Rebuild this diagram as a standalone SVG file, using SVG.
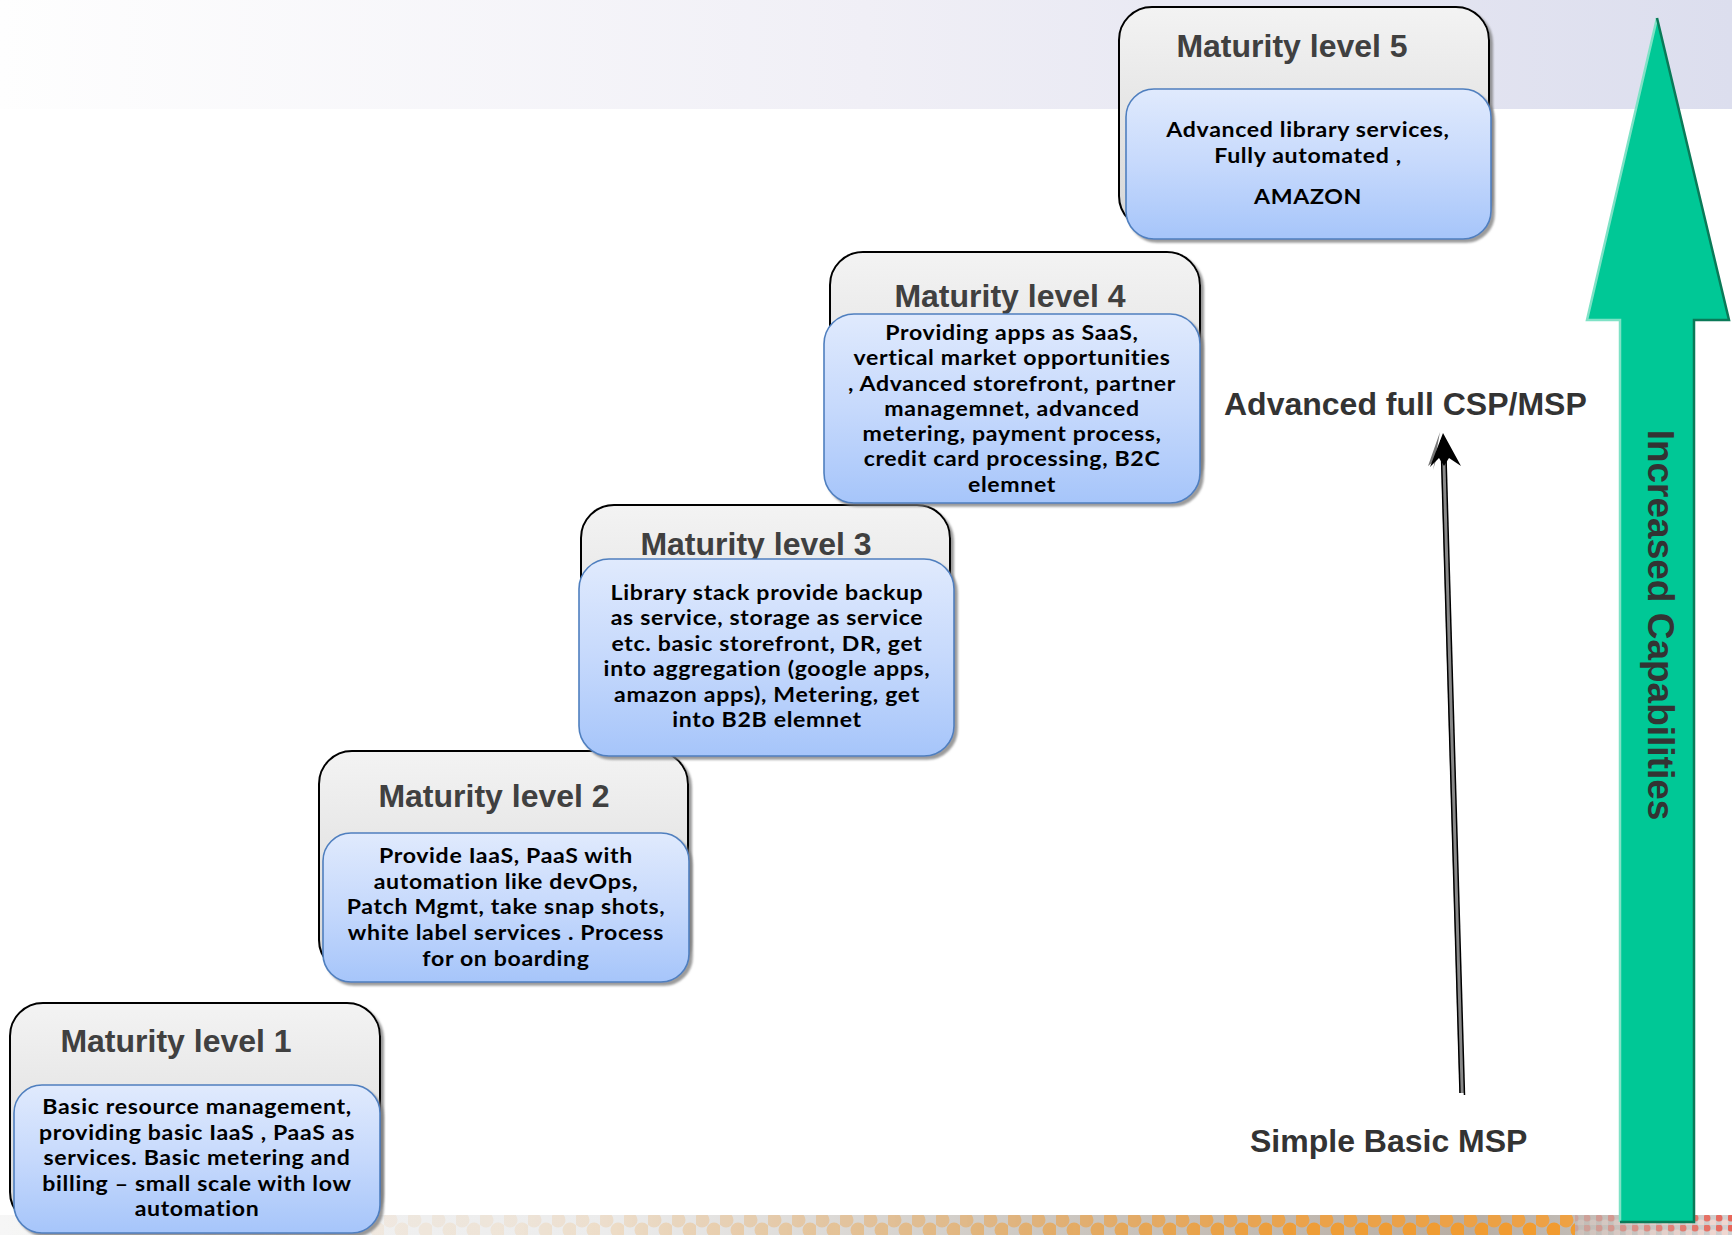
<svg xmlns="http://www.w3.org/2000/svg" width="1732" height="1235" viewBox="0 0 1732 1235">
<defs>
<linearGradient id="topband" x1="0" y1="0" x2="1" y2="0">
<stop offset="0" stop-color="#fefefe"/>
<stop offset="0.5" stop-color="#f0eff6"/>
<stop offset="1" stop-color="#dcdeee"/>
</linearGradient>
<linearGradient id="botband" x1="0" y1="0" x2="1" y2="0">
<stop offset="0" stop-color="#f6f6f6"/>
<stop offset="0.35" stop-color="#ececec"/>
<stop offset="0.6" stop-color="#cdc8c2"/>
<stop offset="0.85" stop-color="#b8aea4"/>
<stop offset="1" stop-color="#d0d0d0"/>
</linearGradient>
<linearGradient id="dotfade" x1="0" y1="0" x2="1" y2="0">
<stop offset="0" stop-color="#fff" stop-opacity="0"/>
<stop offset="0.3" stop-color="#fff" stop-opacity="0.12"/>
<stop offset="0.55" stop-color="#fff" stop-opacity="0.45"/>
<stop offset="0.75" stop-color="#fff" stop-opacity="0.9"/>
<stop offset="1" stop-color="#fff" stop-opacity="1"/>
</linearGradient>
<pattern id="dots" x="0" y="1215" width="24" height="20" patternUnits="userSpaceOnUse">
<circle cx="6" cy="5" r="7.5" fill="#efa040"/>
<circle cx="18" cy="15" r="7.5" fill="#f39a2a"/>
</pattern>
<pattern id="dots2" x="0" y="1215" width="12" height="10" patternUnits="userSpaceOnUse">
<circle cx="3" cy="3" r="3.5" fill="#ef4a3a"/>
<circle cx="9" cy="8" r="3.5" fill="#f9d8d0"/>
</pattern>
<linearGradient id="redfade" x1="0" y1="0" x2="1" y2="0">
<stop offset="0" stop-color="#fff" stop-opacity="0.2"/>
<stop offset="1" stop-color="#fff" stop-opacity="0.8"/>
</linearGradient>
<mask id="dotmask"><rect x="0" y="1215" width="1732" height="20" fill="url(#dotfade)"/></mask>
<mask id="redmask"><rect x="1575" y="1215" width="157" height="20" fill="url(#redfade)"/></mask>
<linearGradient id="grayfill" x1="0" y1="0" x2="0" y2="1">
<stop offset="0" stop-color="#f3f3f3"/>
<stop offset="1" stop-color="#d6d6d6"/>
</linearGradient>
<linearGradient id="bluefill" x1="0" y1="0" x2="0" y2="1">
<stop offset="0" stop-color="#e0eafd"/>
<stop offset="0.5" stop-color="#c6d9fc"/>
<stop offset="1" stop-color="#a6c5fa"/>
</linearGradient>
<filter id="shadow" x="-5%" y="-5%" width="115%" height="115%">
<feDropShadow dx="3" dy="3" stdDeviation="1.2" flood-color="#7a7a7a" flood-opacity="0.75"/>
</filter>
<style>
.outer{fill:url(#grayfill);stroke:#000;stroke-width:2;filter:url(#shadow)}
.inner{fill:url(#bluefill);stroke:#4f7fbf;stroke-width:1.6;filter:url(#shadow)}
.title{font-family:"Liberation Sans",Arial,sans-serif;font-weight:bold;font-size:32px;fill:#404040;text-anchor:middle}
.body{font-family:Lato,"Open Sans",sans-serif;font-weight:bold;font-size:21px;letter-spacing:0.6px;fill:#000;text-anchor:middle}
.label{font-family:"Liberation Sans",Arial,sans-serif;font-weight:bold;font-size:32px;fill:#333}
</style>
</defs>

<g id="background">
<rect x="0" y="0" width="1732" height="1235" fill="#fff"/>
<rect x="0" y="0" width="1732" height="109" fill="url(#topband)"/>
<rect x="0" y="1215" width="1732" height="20" fill="url(#botband)"/>
<rect x="0" y="1215" width="1575" height="20" fill="url(#dots)" mask="url(#dotmask)"/>
<rect x="1575" y="1215" width="157" height="20" fill="url(#dots2)" mask="url(#redmask)"/>
</g>

<g id="capability-arrow">
<path d="M1657 18 L1729 320 L1694 320 L1694 1222 L1620 1222 L1620 320 L1587 320 Z" fill="#00c896"/>
<path d="M1657 18 L1587 320 L1620 320 L1620 1222" fill="none" stroke="#7fe2c6" stroke-width="2.5"/>
<path d="M1657 18 L1729 320 L1694 320 L1694 1222 L1620 1222" fill="none" stroke="#0a7a58" stroke-width="2.5"/>
<text x="1648" y="625" transform="rotate(90 1648 625)" text-anchor="middle" font-family="Liberation Sans, Arial, sans-serif" font-weight="bold" font-size="37" fill="#333">Increased Capabilities</text>
</g>

<g id="level1">
<rect class="outer" x="10" y="1003" width="370" height="222" rx="33"/>
<text class="title" x="176" y="1052">Maturity level 1</text>
<rect class="inner" x="14" y="1085" width="366" height="148" rx="28"/>
<g transform="translate(197 0) scale(1.1 1)">
<text class="body"><tspan x="0" y="1114">Basic resource management,</tspan><tspan x="0" y="1140">providing basic IaaS , PaaS as</tspan><tspan x="0" y="1165">services. Basic metering and</tspan><tspan x="0" y="1191">billing – small scale with low</tspan><tspan x="0" y="1216">automation</tspan></text>
</g>
</g>

<g id="level2">
<rect class="outer" x="319" y="751" width="369" height="222" rx="33"/>
<text class="title" x="494" y="807">Maturity level 2</text>
<rect class="inner" x="323" y="833" width="366" height="149" rx="28"/>
<g transform="translate(506 0) scale(1.1 1)">
<text class="body"><tspan x="0" y="863">Provide IaaS, PaaS with</tspan><tspan x="0" y="889">automation like devOps,</tspan><tspan x="0" y="914">Patch Mgmt, take snap shots,</tspan><tspan x="0" y="940">white label services . Process</tspan><tspan x="0" y="966">for on boarding</tspan></text>
</g>
</g>

<g id="level3">
<rect class="outer" x="581" y="505" width="369" height="240" rx="33"/>
<text class="title" x="756" y="555">Maturity level 3</text>
<rect class="inner" x="579" y="559" width="375" height="197" rx="30"/>
<g transform="translate(767 0) scale(1.1 1)">
<text class="body"><tspan x="0" y="600">Library stack provide backup</tspan><tspan x="0" y="625.5">as service, storage as service</tspan><tspan x="0" y="651">etc. basic storefront, DR, get</tspan><tspan x="0" y="676.5">into aggregation (google apps,</tspan><tspan x="0" y="702">amazon apps), Metering, get</tspan><tspan x="0" y="727.5">into B2B elemnet</tspan></text>
</g>
</g>

<g id="level4">
<rect class="outer" x="830" y="252" width="370" height="240" rx="33"/>
<text class="title" x="1010" y="307">Maturity level 4</text>
<rect class="inner" x="824" y="314" width="376" height="189" rx="30"/>
<g transform="translate(1012 0) scale(1.1 1)">
<text class="body"><tspan x="0" y="340">Providing apps as SaaS,</tspan><tspan x="0" y="365.3">vertical market opportunities</tspan><tspan x="0" y="390.6">, Advanced storefront, partner</tspan><tspan x="0" y="415.9">managemnet, advanced</tspan><tspan x="0" y="441.2">metering, payment process,</tspan><tspan x="0" y="466.5">credit card processing, B2C</tspan><tspan x="0" y="491.8">elemnet</tspan></text>
</g>
</g>

<g id="level5">
<rect class="outer" x="1119" y="7" width="370" height="222" rx="33"/>
<text class="title" x="1292" y="57">Maturity level 5</text>
<rect class="inner" x="1126" y="89" width="365" height="150" rx="28"/>
<g transform="translate(1308 0) scale(1.1 1)">
<text class="body"><tspan x="0" y="137">Advanced library services,</tspan><tspan x="0" y="163">Fully automated ,</tspan><tspan x="0" y="204">AMAZON</tspan></text>
</g>
</g>

<g id="connectors">
<line x1="1462" y1="1093" x2="1443" y2="440" stroke="#888" stroke-width="5"/>
<line x1="1460" y1="1093" x2="1441" y2="440" stroke="#000" stroke-width="1.5"/>
<line x1="1464.5" y1="1095" x2="1445.5" y2="440" stroke="#000" stroke-width="1.5"/>
<path d="M1440 432 L1428 466 L1436 460 L1433 470 Z" fill="#777"/>
<path d="M1443 433 L1461 466 L1449 458 L1444 466 L1439 458 L1430 467 Z" fill="#000"/>
</g>

<g id="labels">
<text class="label" x="1224" y="415">Advanced full CSP/MSP</text>
<text class="label" x="1250" y="1152">Simple Basic MSP</text>
</g>
</svg>
